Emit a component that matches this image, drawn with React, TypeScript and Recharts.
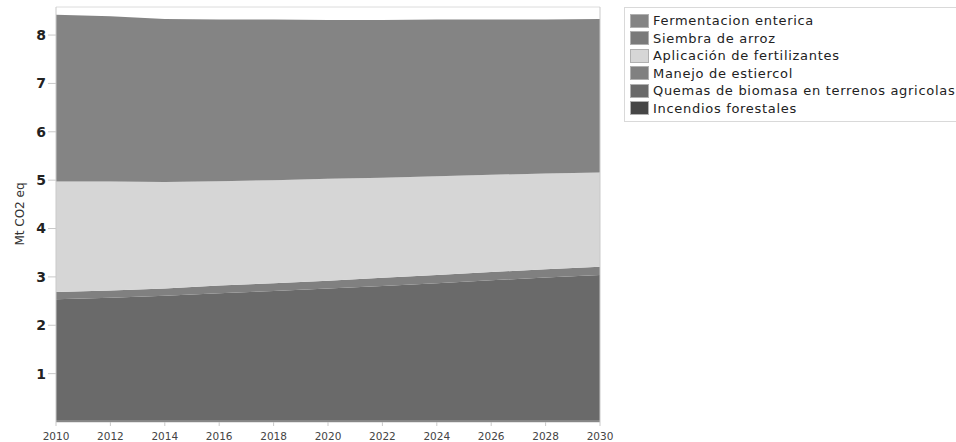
import React from 'react';
import {
  AreaChart, Area, XAxis, YAxis, ReferenceLine, Label,
} from 'recharts';

// años del escenario
const years = [2010, 2012, 2014, 2016, 2018, 2020, 2022, 2024, 2026, 2028, 2030];

// Mt CO2 eq por fuente (apilado de abajo hacia arriba)
const incendiosForestales = [0.03, 0.03, 0.03, 0.03, 0.03, 0.03, 0.03, 0.03, 0.03, 0.03, 0.03];
const quemasBiomasa = [2.51, 2.54, 2.58, 2.63, 2.68, 2.73, 2.78, 2.84, 2.90, 2.96, 3.01];
const manejoEstiercol = [0.15, 0.15, 0.15, 0.16, 0.16, 0.16, 0.17, 0.17, 0.17, 0.17, 0.17];
const aplicacionFertilizantes = [2.28, 2.25, 2.20, 2.16, 2.13, 2.11, 2.07, 2.04, 2.01, 1.98, 1.95];
const siembraArroz = [0, 0, 0, 0, 0, 0, 0, 0, 0, 0, 0];
const fermentacionEnterica = [3.45, 3.42, 3.37, 3.34, 3.32, 3.28, 3.26, 3.24, 3.21, 3.18, 3.17];

const yTicks = [1, 2, 3, 4, 5, 6, 7, 8];
const xTicks = years;

const SERIES = [
  { key: 'incendios', name: 'Incendios forestales', color: '#464646', values: incendiosForestales },
  { key: 'quemas', name: 'Quemas de biomasa en terrenos agricolas', color: '#6a6a6a', values: quemasBiomasa },
  { key: 'manejo', name: 'Manejo de estiercol', color: '#808080', values: manejoEstiercol },
  { key: 'fertilizantes', name: 'Aplicación de fertilizantes', color: '#d6d6d6', values: aplicacionFertilizantes },
  { key: 'arroz', name: 'Siembra de arroz', color: '#7a7a7a', values: siembraArroz },
  { key: 'fermentacion', name: 'Fermentacion enterica', color: '#848484', values: fermentacionEnterica },
];

const data = years.map((year, i) => {
  const row: Record<string, number> = { year };
  SERIES.forEach((s) => { row[s.key] = s.values[i]; });
  return row;
});

const FONT = '"DejaVu Sans", Verdana, sans-serif';
const AXIS_COLOR = '#c9c9c9';

function ChartLegend() {
  // la leyenda lista las capas de arriba hacia abajo
  const items = [...SERIES].reverse();
  return (
    <div
      style={{
        position: 'absolute',
        left: 624,
        top: 7,
        width: 345,
        padding: '4px 0 4px 5px',
        border: '1px solid #d9d9d9',
        background: '#fff',
        fontFamily: FONT,
        fontSize: 13,
        letterSpacing: 0.7,
        color: '#222',
        boxSizing: 'border-box',
      }}
    >
      {items.map((s) => (
        <div key={s.key} style={{ display: 'flex', alignItems: 'center', height: 17.5, whiteSpace: 'nowrap' }}>
          <span
            style={{
              display: 'inline-block',
              width: 19,
              height: 14,
              background: s.color,
              marginRight: 4,
              boxSizing: 'border-box',
              border: '1px solid #b0b0b0',
            }}
          />
          <span>{s.name}</span>
        </div>
      ))}
    </div>
  );
}

export default function App() {
  return (
    <div
      style={{
        position: 'fixed',
        left: 0,
        top: 0,
        width: 956,
        height: 442,
        overflow: 'hidden',
        background: '#fff',
      }}
    >
      <AreaChart
        width={956}
        height={442}
        data={data}
        margin={{ top: 7, right: 356, bottom: 0, left: 0 }}
      >
        <XAxis
          dataKey="year"
          type="number"
          domain={[2010, 2030]}
          ticks={xTicks}
          interval={0}
          height={20}
          tickSize={4}
          tickMargin={7}
          stroke={AXIS_COLOR}
          tick={{ fill: '#444', fontSize: 10.5, fontFamily: FONT }}
        />
        <YAxis
          type="number"
          domain={[0, 8.58]}
          ticks={yTicks}
          width={56}
          tickSize={8}
          tickMargin={2}
          stroke={AXIS_COLOR}
          tick={{ fill: '#222', fontSize: 14, fontWeight: 600, fontFamily: FONT }}
        >
          <Label
            content={() => (
              <text
                x={20}
                y={214}
                transform="rotate(-90 20 214)"
                textAnchor="middle"
                dominantBaseline="central"
                fontFamily={FONT}
                fontSize={12}
                fill="#333"
              >
                Mt CO2 eq
              </text>
            )}
          />
        </YAxis>
        {SERIES.map((s) => (
          <Area
            key={s.key}
            type="linear"
            dataKey={s.key}
            name={s.name}
            stackId="total"
            stroke="none"
            fill={s.color}
            fillOpacity={1}
            dot={false}
            activeDot={false}
            isAnimationActive={false}
          />
        ))}
        <ReferenceLine y={8.58} stroke="#dcdcdc" />
        <ReferenceLine x={2030} stroke={AXIS_COLOR} />
      </AreaChart>
      <ChartLegend />
    </div>
  );
}
